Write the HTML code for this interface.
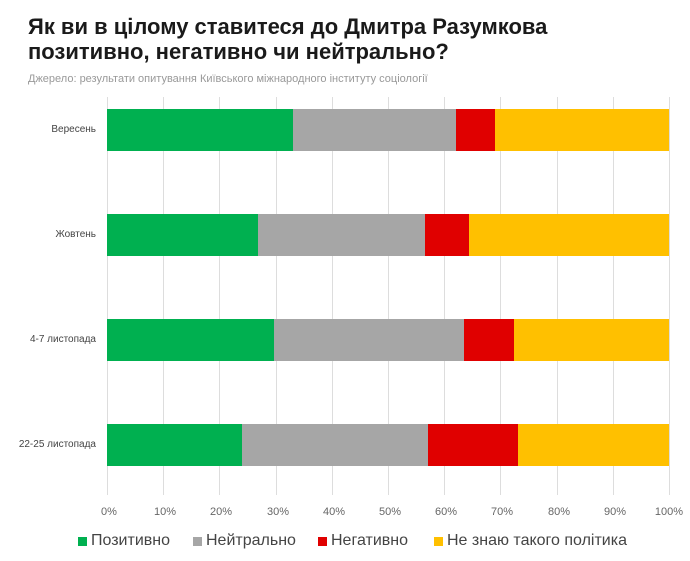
<!DOCTYPE html>
<html><head><meta charset="utf-8"><style>
body{margin:0;width:690px;height:561px;background:#fff;position:relative;overflow:hidden;font-family:"Liberation Sans",sans-serif}
.t{position:absolute;left:28px;top:14px;font-size:22px;font-weight:bold;line-height:25px;color:#1a1a1a}
.s{position:absolute;left:28px;top:73px;font-size:11px;color:#999}
.g{position:absolute;top:97px;height:398px;width:1px;background:#ddd}
.bar{position:absolute;left:107px;width:562px;height:42px;display:flex}
.bar div{height:100%}
.l{position:absolute;right:594px;font-size:10px;color:#444;text-align:right;white-space:nowrap}
.x{position:absolute;top:506px;font-size:11px;color:#666;transform:translateX(-50%)}
.lg{position:absolute;top:532px;font-size:16px;color:#444;display:flex;align-items:center}
.lg i{display:inline-block;width:9px;height:9px;margin-right:4px}
</style></head><body>
<div class="t">Як ви в цілому ставитеся до Дмитра Разумкова<br>позитивно, негативно чи нейтрально?</div>
<div class="s">Джерело: результати опитування Київського міжнародного інституту соціології</div>
<div class="g" style="left:107px"></div><div class="g" style="left:163px"></div><div class="g" style="left:219px"></div><div class="g" style="left:276px"></div><div class="g" style="left:332px"></div><div class="g" style="left:388px"></div><div class="g" style="left:444px"></div><div class="g" style="left:500px"></div><div class="g" style="left:557px"></div><div class="g" style="left:613px"></div><div class="g" style="left:669px"></div>
<div class="bar" style="top:109px"><div style="width:186px;background:#00b050"></div><div style="width:163px;background:#a6a6a6"></div><div style="width:39px;background:#e00000"></div><div style="flex:1;background:#ffc000"></div></div>
<div class="bar" style="top:214px"><div style="width:151px;background:#00b050"></div><div style="width:167px;background:#a6a6a6"></div><div style="width:44px;background:#e00000"></div><div style="flex:1;background:#ffc000"></div></div>
<div class="bar" style="top:319px"><div style="width:167px;background:#00b050"></div><div style="width:190px;background:#a6a6a6"></div><div style="width:50px;background:#e00000"></div><div style="flex:1;background:#ffc000"></div></div>
<div class="bar" style="top:424px"><div style="width:135px;background:#00b050"></div><div style="width:186px;background:#a6a6a6"></div><div style="width:90px;background:#e00000"></div><div style="flex:1;background:#ffc000"></div></div>
<div class="l" style="top:124px">Вересень</div>
<div class="l" style="top:229px">Жовтень</div>
<div class="l" style="top:334px">4-7 листопада</div>
<div class="l" style="top:439px">22-25 листопада</div>
<div class="x" style="left:109px">0%</div><div class="x" style="left:165px">10%</div><div class="x" style="left:221px">20%</div><div class="x" style="left:278px">30%</div><div class="x" style="left:334px">40%</div><div class="x" style="left:390px">50%</div><div class="x" style="left:446px">60%</div><div class="x" style="left:502px">70%</div><div class="x" style="left:559px">80%</div><div class="x" style="left:615px">90%</div><div class="x" style="left:669px">100%</div>
<div class="lg" style="left:78px"><i style="background:#00b050"></i>Позитивно</div>
<div class="lg" style="left:193px"><i style="background:#a6a6a6"></i>Нейтрально</div>
<div class="lg" style="left:318px"><i style="background:#e00000"></i>Негативно</div>
<div class="lg" style="left:434px"><i style="background:#ffc000"></i>Не знаю такого політика</div>
</body></html>
